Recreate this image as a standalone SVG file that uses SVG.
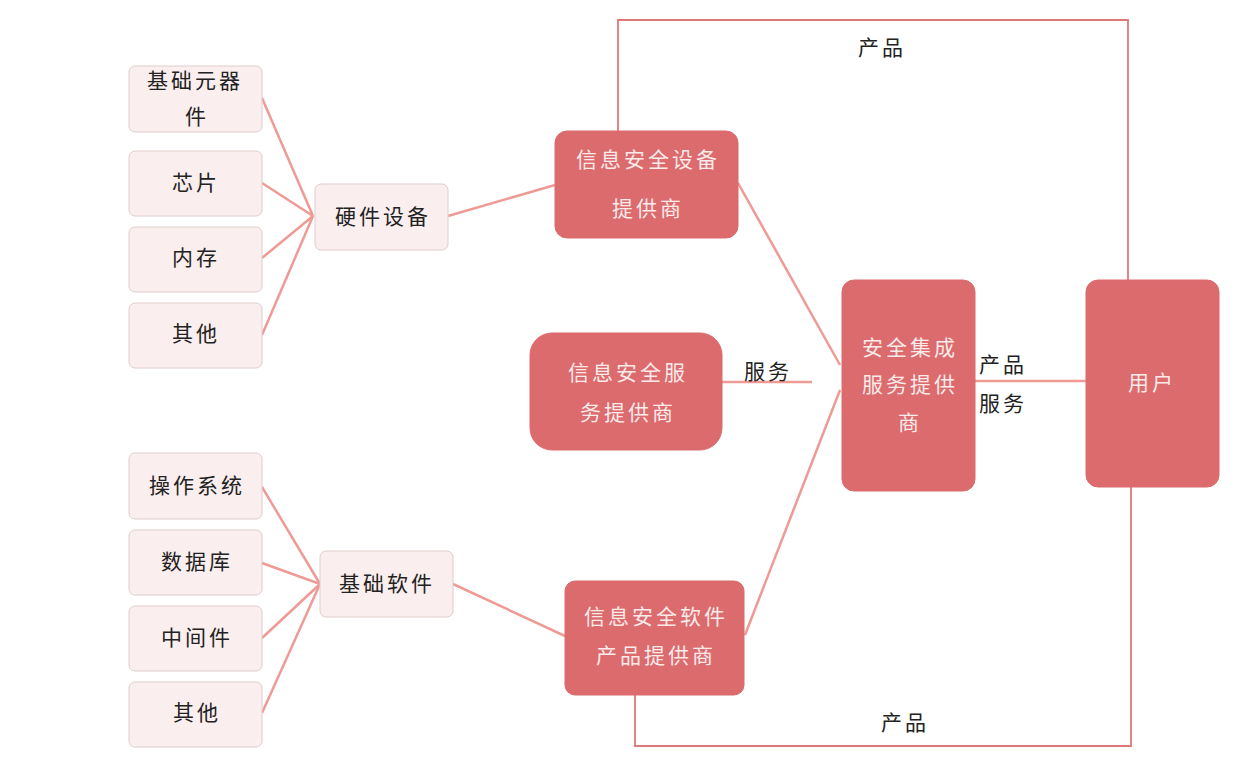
<svg xmlns="http://www.w3.org/2000/svg" width="1238" height="782" viewBox="0 0 1238 782">
<style>
.leaf{fill:#fbeeee;stroke:#e0cccc;stroke-width:1}
.red{fill:#dc6b6e;stroke:#dc6b6e}
.t{font-family:"Noto Sans CJK SC",sans-serif;font-size:21px;fill:#222;text-anchor:middle;letter-spacing:3px}
.w{fill:#fbeaea}
.c line,.c polyline{stroke:#ee9a95;stroke-width:2.5;fill:none}
.c .thin{stroke:#e07878;stroke-width:1.8}
</style>
<rect width="1238" height="782" fill="#fff"/>
<g class="c" id="connectors">
<line x1="262" y1="98" x2="313" y2="216"/>
<line x1="262" y1="183" x2="313" y2="216"/>
<line x1="262" y1="258" x2="313" y2="216"/>
<line x1="262" y1="335" x2="313" y2="216"/>
<line x1="448" y1="216" x2="555" y2="185"/>
<line x1="262" y1="487" x2="320" y2="584"/>
<line x1="262" y1="563" x2="320" y2="584"/>
<line x1="262" y1="638" x2="320" y2="584"/>
<line x1="262" y1="713" x2="320" y2="584"/>
<line x1="453" y1="584" x2="565" y2="636"/>
<line x1="738" y1="183" x2="840" y2="365"/>
<line x1="745" y1="635" x2="840" y2="390"/>
<line x1="722" y1="382" x2="812" y2="382"/>
<line x1="975" y1="381" x2="1086" y2="381"/>
<polyline class="thin" points="618,131 618,20 1128,20 1128,280"/>
<polyline class="thin" points="635,695 635,746 1131,746 1131,487"/>
</g>
<text class="t" x="882" y="55">产品</text>
<text class="t" x="905" y="730">产品</text>
<text class="t" x="768" y="379">服务</text>
<text class="t" x="1003" y="372">产品</text>
<text class="t" x="1003" y="411">服务</text>
<g id="n1"><rect class="leaf" x="129" y="66" width="133" height="66" rx="6"/><text class="t" x="195" y="88">基础元器</text><text class="t" x="197" y="124">件</text></g>
<g id="n2"><rect class="leaf" x="129" y="151" width="133" height="65" rx="6"/><text class="t" x="196" y="190">芯片</text></g>
<g id="n3"><rect class="leaf" x="129" y="227" width="133" height="65" rx="6"/><text class="t" x="196" y="265">内存</text></g>
<g id="n4"><rect class="leaf" x="129" y="303" width="133" height="65" rx="6"/><text class="t" x="196" y="341">其他</text></g>
<g id="n5"><rect class="leaf" x="315" y="184" width="133" height="66" rx="6"/><text class="t" x="383" y="224">硬件设备</text></g>
<g id="n6"><rect class="leaf" x="129" y="453" width="133" height="66" rx="6"/><text class="t" x="197" y="493">操作系统</text></g>
<g id="n7"><rect class="leaf" x="129" y="530" width="133" height="65" rx="6"/><text class="t" x="197" y="569">数据库</text></g>
<g id="n8"><rect class="leaf" x="129" y="606" width="133" height="65" rx="6"/><text class="t" x="197" y="645">中间件</text></g>
<g id="n9"><rect class="leaf" x="129" y="682" width="133" height="65" rx="6"/><text class="t" x="197" y="720">其他</text></g>
<g id="n10"><rect class="leaf" x="320" y="551" width="133" height="66" rx="6"/><text class="t" x="387" y="591">基础软件</text></g>
<g id="n11"><rect class="red" x="555" y="131" width="183" height="107" rx="12"/><text class="t w" x="648" y="167">信息安全设备</text><text class="t w" x="648" y="216">提供商</text></g>
<g id="n12"><rect class="red" x="530" y="333" width="192" height="117" rx="22"/><text class="t w" x="628" y="380">信息安全服</text><text class="t w" x="628" y="420">务提供商</text></g>
<g id="n13"><rect class="red" x="565" y="581" width="179" height="114" rx="10"/><text class="t w" x="656" y="624">信息安全软件</text><text class="t w" x="656" y="663">产品提供商</text></g>
<g id="n14"><rect class="red" x="842" y="280" width="133" height="211" rx="12"/><text class="t w" x="910" y="355">安全集成</text><text class="t w" x="910" y="392">服务提供</text><text class="t w" x="910" y="430">商</text></g>
<g id="n15"><rect class="red" x="1086" y="280" width="133" height="207" rx="12"/><text class="t w" x="1152" y="390">用户</text></g>
</svg>
